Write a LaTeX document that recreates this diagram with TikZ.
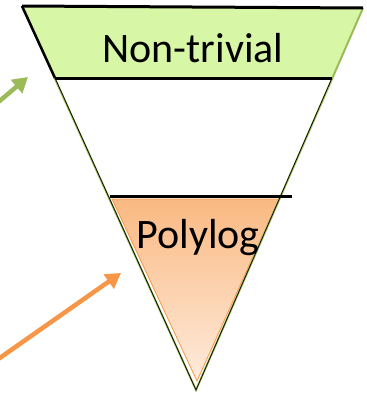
\documentclass[tikz,border=0pt]{standalone}
\usepackage{fontspec}
\setmainfont{Carlito}
\usetikzlibrary{arrows.meta}
\definecolor{bandgreen}{RGB}{216,247,166}
\definecolor{linegreen}{RGB}{155,187,89}
\definecolor{arroworange}{RGB}{247,150,70}
\definecolor{toporange}{RGB}{250,185,130}
\definecolor{loworange}{RGB}{254,235,220}

\begin{document}
\begin{tikzpicture}[x=1pt, y=-1pt, >={Triangle[length=15pt, width=17pt]}]
		\tikzset{divider/.style={line width=3pt},
			tiertext/.style={font=\fontsize{42}{48}\selectfont, inner sep=0pt, anchor=base},
			pointer/.style={->, line width=4.5pt}}
		\useasboundingbox (0,0) rectangle (367,394);
		% funnel
		\coordinate (tl) at (22,6);
		\coordinate (tr) at (363,8);
		\coordinate (apex) at (196,390);
		\fill[bandgreen] (24,7) -- (362,8) -- (332,78) -- (55,78) -- cycle;
		\shade[top color=toporange, bottom color=loworange, draw=arroworange, line width=0.8pt] (112,199) -- (279,199) -- (197,381) -- cycle;
		\draw[linegreen, line width=2pt] (tl) -- (apex) -- (tr);
		\draw[line width=0.7pt] (55,78) -- (apex) -- (332,78);
		\draw[line width=2.5pt] (tl) -- (55,78);
		% dividers
		\draw[divider] (tl) -- (tr);
		\draw[divider] (55,78) -- (332,78);
		\draw[divider] (110,196) -- (292,196);
		% texts
		\node[tiertext] (nontrivial) at (193,62) {Non-trivial};
		\node[tiertext] (polylog) at (198,248) {Polylog};
		% pointers
		\coordinate (gtail) at (-4,104);
		\coordinate (ghead) at (28,77);
		\draw[pointer, linegreen] (gtail) -- (ghead);
		\coordinate (otail) at (-6,362);
		\coordinate (ohead) at (121,273);
		\draw[pointer, arroworange] (otail) -- (ohead);
	\end{tikzpicture}
\end{document}
